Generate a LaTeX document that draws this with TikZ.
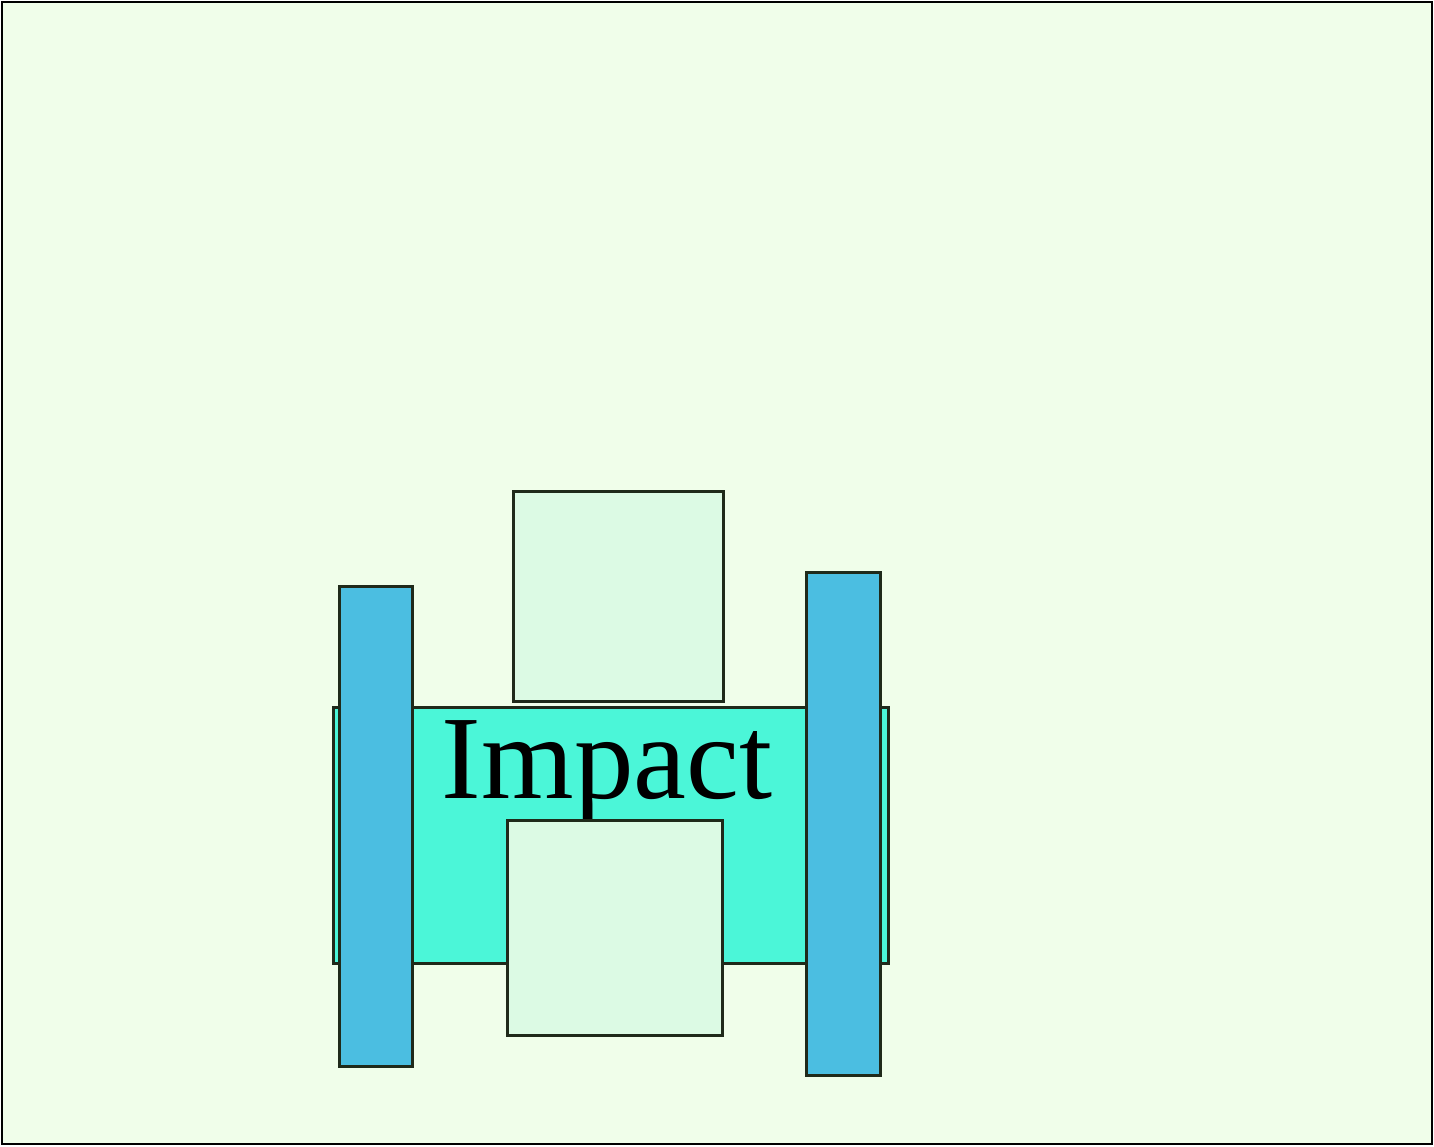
\documentclass[tikz,border=0pt]{standalone}
\usepackage{fontspec}
\setmainfont{Liberation Serif}
\definecolor{bgc}{HTML}{F0FEEA}
\definecolor{bandc}{HTML}{4BF6D8}
\definecolor{barc}{HTML}{4BBEE1}
\definecolor{boxc}{HTML}{DCFAE4}
\definecolor{edgec}{HTML}{1F2A1A}
\begin{document}
\begin{tikzpicture}[x=1pt,y=-1pt,
  part/.style={draw=edgec,line width=3pt},
  frame/.style={draw=black,line width=2.5pt,fill=bgc}]
\useasboundingbox (0,0) rectangle (1434,1146);
\draw[frame] (2,2) rectangle (1432,1144);
\draw[part,fill=bandc] (333,707) rectangle (888,963);
\draw[part,fill=boxc] (513,491) rectangle (723,701);
\draw[part,fill=barc] (339,586) rectangle (412,1066);
\draw[part,fill=barc] (806,572) rectangle (880,1075);
\node[anchor=base,inner sep=0pt,font=\fontsize{119}{130}\selectfont] (lbl) at (607,798) {Impact};
\draw[part,fill=boxc] (507,820) rectangle (722,1035);
\end{tikzpicture}
\end{document}
